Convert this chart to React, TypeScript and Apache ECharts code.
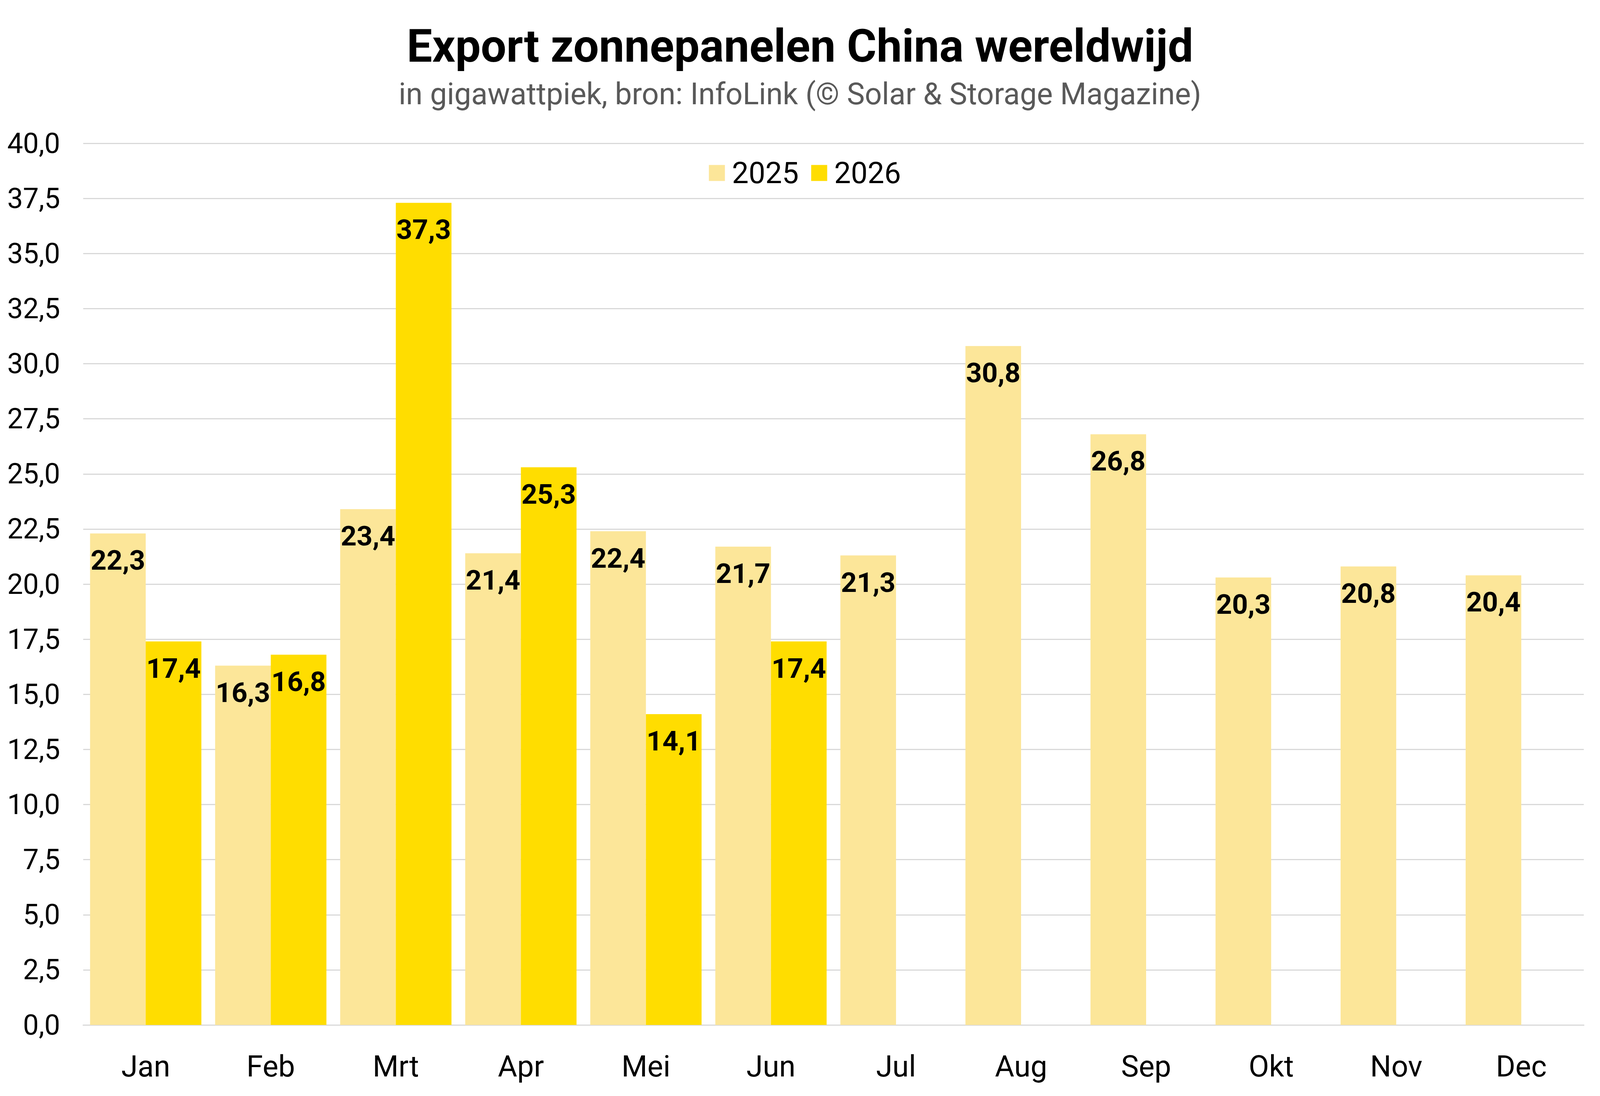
import { useEffect, useRef } from "react";
import * as echarts from "echarts";

const months = ["Jan", "Feb", "Mrt", "Apr", "Mei", "Jun", "Jul", "Aug", "Sep", "Okt", "Nov", "Dec"];
const export2025 = [22.3, 16.3, 23.4, 21.4, 22.4, 21.7, 21.3, 30.8, 26.8, 20.3, 20.8, 20.4];
const export2026 = [17.4, 16.8, 37.3, 25.3, 14.1, 17.4, null, null, null, null, null, null];
const yTicks = { min: 0, max: 40, step: 2.5 };

const fmt = (v: number) => v.toFixed(1).replace(".", ",");

// reference layout was drawn on a 5039 x 2807 canvas
const REF_W = 5039;
const REF_H = 2807;

export default function App() {
  const chartRef = useRef<HTMLDivElement>(null);

  useEffect(() => {
    if (!chartRef.current) return;
    const chart = echarts.init(chartRef.current, undefined, { renderer: "svg" });

    const sx = window.innerWidth / REF_W;
    const sy = window.innerHeight / REF_H;
    const f = Math.sqrt(sx * sy);

    // text placed with "top" T: baseline sits at about T + 0.842 * fontSize (Roboto)
    const topFor = (baseline: number, size: number) => baseline * sy - 0.842 * size;

    const titleSize = Math.round(129 * f);
    const subSize = Math.round(85 * f);
    const legendSize = Math.round(84 * f);
    const xLabelSize = Math.round(84 * f);
    const yLabelSize = Math.round(80 * f);
    const barLabelSize = Math.round(Math.min(84 * f, (175 * sx * 0.97) / 1.95));

    const barLabel = {
      show: true,
      position: "insideTop" as const,
      distance: Math.round(68 * sy - barLabelSize / 2),
      fontSize: barLabelSize,
      fontWeight: "bold" as const,
      color: "#000",
      fontFamily: "Roboto",
      formatter: (p: any) => fmt(p.value),
    };

    const gridTop = 367 * sy;
    const gridBottom = 182 * sy;

    // legend: two items, icon + 5px + padding + "2025" text
    const iconSize = Math.round(45 * f);
    const textPad = Math.round(14 * f);
    const legendGap = Math.round(36 * f);
    const itemW = iconSize + 5 + textPad + legendSize * 0.562 * 4;
    const legendW = itemW * 2 + legendGap;
    const legendLeft = 2535 * sx - legendW / 2;

    const option: echarts.EChartsOption = {
      animation: false,
      backgroundColor: "#fff",
      textStyle: { fontFamily: "Roboto" },
      title: [
        {
          text: "Export zonnepanelen China wereldwijd",
          left: "center",
          top: topFor(158, titleSize),
          padding: 0,
          textStyle: { fontSize: titleSize, fontWeight: "bold", color: "#000", fontFamily: "Roboto" },
        },
        {
          text: "in gigawattpiek, bron: InfoLink (© Solar & Storage Magazine)",
          left: "center",
          top: topFor(267, subSize),
          padding: 0,
          textStyle: { fontSize: subSize, fontWeight: "normal", color: "#595959", fontFamily: "Roboto" },
        },
      ],
      legend: {
        data: ["2025", "2026"],
        top: 443 * sy - legendSize / 2,
        left: legendLeft,
        padding: 0,
        icon: "rect",
        itemWidth: iconSize,
        itemHeight: iconSize,
        itemGap: legendGap,
        textStyle: {
          fontSize: legendSize,
          color: "#000",
          fontFamily: "Roboto",
          padding: [0, 0, 0, textPad],
        },
      },
      grid: { left: 262 * sx, right: 51 * sx, top: gridTop, bottom: gridBottom, containLabel: false },
      xAxis: {
        type: "category",
        data: months,
        axisLine: { lineStyle: { color: "#d9d9d9", width: 3 } },
        axisTick: { show: false },
        axisLabel: {
          fontSize: xLabelSize,
          color: "#000",
          margin: Math.round(2757 * sy - (REF_H * sy - gridBottom) - 0.842 * xLabelSize),
          fontFamily: "Roboto",
        },
      },
      yAxis: {
        type: "value",
        min: yTicks.min,
        max: yTicks.max,
        interval: yTicks.step,
        axisLine: { show: false },
        axisTick: { show: false },
        splitLine: { lineStyle: { color: "#d9d9d9", width: 3 } },
        axisLabel: {
          fontSize: yLabelSize,
          color: "#000",
          margin: Math.round(72 * sx),
          fontFamily: "Roboto",
          formatter: (v: number) => fmt(v),
        },
      },
      series: [
        {
          name: "2025",
          type: "bar",
          data: export2025,
          barGap: "0%",
          barCategoryGap: "11%",
          itemStyle: { color: "#FCE699" },
          label: barLabel,
        },
        {
          name: "2026",
          type: "bar",
          data: export2026,
          barGap: "0%",
          barCategoryGap: "11%",
          itemStyle: { color: "#FFDD00" },
          label: barLabel,
        },
      ],
    };

    chart.setOption(option);
    return () => chart.dispose();
  }, []);

  return (
    <div
      ref={chartRef}
      style={{ position: "absolute", left: 0, top: 0, width: "100vw", height: "100vh" }}
    />
  );
}
